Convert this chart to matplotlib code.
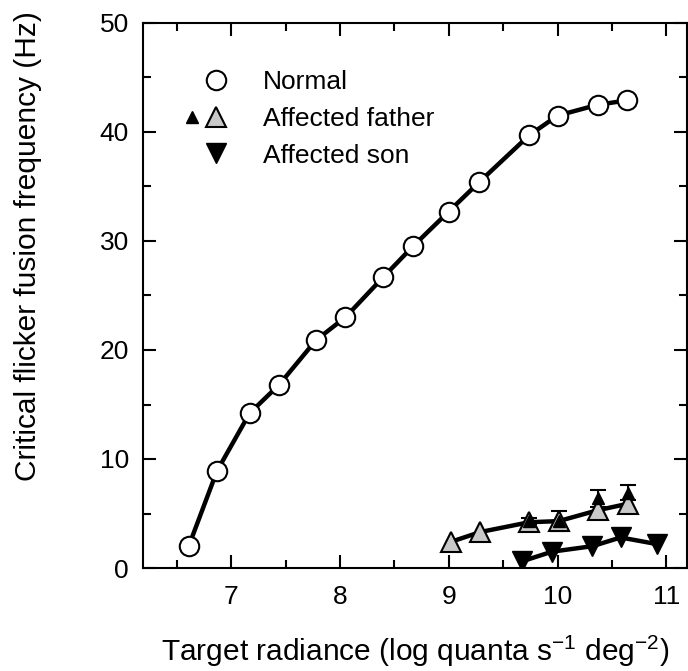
import matplotlib
matplotlib.use("Agg")
import matplotlib.pyplot as plt
from matplotlib.lines import Line2D
from matplotlib.legend_handler import HandlerTuple
from matplotlib.ticker import MultipleLocator

plt.rcParams['font.family'] = ['Liberation Sans', 'DejaVu Sans']
plt.rcParams['mathtext.default'] = 'regular'

# Normal observer
normal_x = [6.61, 6.87, 7.17, 7.44, 7.78, 8.05, 8.40, 8.67, 9.00, 9.28, 9.74, 10.00, 10.37, 10.64]
normal_y = [2.0, 8.9, 14.2, 16.8, 20.9, 23.0, 26.7, 29.5, 32.7, 35.4, 39.7, 41.5, 42.5, 42.9]

# Affected father (grey = one eye, black = other eye with error bars)
father_x = [9.02, 9.29, 9.74, 10.01, 10.37, 10.65]
father_y = [2.4, 3.3, 4.2, 4.3, 5.3, 5.9]
father2_x = [9.74, 10.01, 10.37, 10.65]
father2_y = [4.3, 4.3, 6.4, 6.9]
father2_err = [0.3, 0.9, 0.8, 0.7]

# Affected son
son_x = [9.67, 9.95, 10.32, 10.58, 10.91]
son_y = [0.6, 1.5, 2.0, 2.8, 2.2]

fig = plt.figure(figsize=(6.88, 6.71), dpi=100)
ax = fig.add_axes([143 / 688, 103 / 671, 544 / 688, 545 / 671])

lw = 3.2
ax.plot(normal_x, normal_y, '-', color='black', lw=lw, zorder=2)
ax.plot(normal_x, normal_y, 'o', ms=14, mfc='white', mec='black', mew=1.5, zorder=3)

ax.plot(father_x, father_y, '-', color='black', lw=lw, zorder=2)
ax.errorbar(father2_x, father2_y, yerr=father2_err, fmt='none', ecolor='black',
            elinewidth=1.5, capsize=6, capthick=1.5, zorder=3)
ax.plot(father_x, father_y, '^', ms=14, mfc='#c8c8c8', mec='black', mew=1.5, zorder=4)
ax.plot(father2_x, father2_y, '^', ms=9, mfc='black', mec='black', zorder=5)

ax.plot(son_x, son_y, '-', color='black', lw=lw, zorder=2)
ax.plot(son_x, son_y, 'v', ms=14, mfc='black', mec='black', zorder=3)

ax.set_xlim(6.19, 11.19)
ax.set_ylim(0, 50)
ax.xaxis.set_major_locator(MultipleLocator(1))
ax.xaxis.set_minor_locator(MultipleLocator(0.5))
ax.yaxis.set_major_locator(MultipleLocator(10))
ax.yaxis.set_minor_locator(MultipleLocator(5))
ax.tick_params(which='both', direction='in', top=True, right=True, width=1.5, labelsize=19)
ax.tick_params(which='major', length=9.5)
ax.tick_params(which='minor', length=5.5)
ax.tick_params(axis='x', which='major', pad=12)
ax.tick_params(axis='y', which='major', pad=10)
for s in ax.spines.values():
    s.set_linewidth(1.5)

ax.set_xlabel('Target radiance (log quanta s$^{-1}$ deg$^{-2}$)', fontsize=21.5, labelpad=18)
ax.set_ylabel('Critical flicker fusion frequency (Hz)', fontsize=21.5)
ax.yaxis.set_label_coords(-0.185, 0.59)

# legend
blank = Line2D([], [], linestyle='none', marker=None)
h_norm = Line2D([], [], linestyle='none', marker='o', ms=14, mfc='white', mec='black', mew=1.5)
h_fb = Line2D([], [], linestyle='none', marker='^', ms=8, mfc='black', mec='black')
h_fg = Line2D([], [], linestyle='none', marker='^', ms=14, mfc='#c8c8c8', mec='black', mew=1.5)
h_son = Line2D([], [], linestyle='none', marker='v', ms=14, mfc='black', mec='black')
ax.legend([(blank, h_norm), (h_fb, h_fg), (blank, h_son)],
          ['Normal', 'Affected father', 'Affected son'],
          handler_map={tuple: HandlerTuple(ndivide=2, pad=0)},
          loc='upper left', bbox_to_anchor=(0.068, 0.914), frameon=False,
          fontsize=19, handlelength=1.82, handletextpad=1.33, labelspacing=0.49,
          borderpad=0, borderaxespad=0)

fig.savefig('out.png', dpi=100)
